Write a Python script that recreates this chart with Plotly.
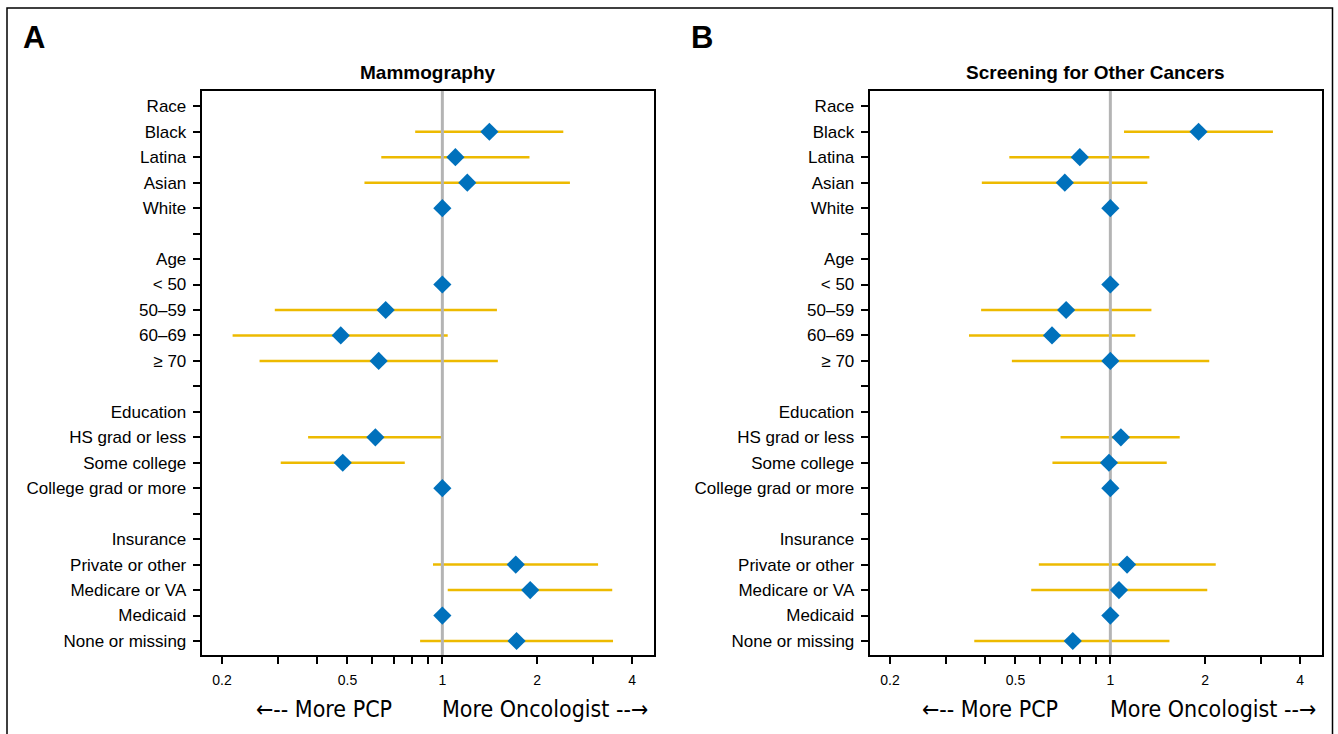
import plotly.graph_objects as go

# ---------------- data ----------------
row_labels = ["Race", "Black", "Latina", "Asian", "White", "",
              "Age", "< 50", "50–59", "60–69", "≥ 70", "",
              "Education", "HS grad or less", "Some college", "College grad or more", "",
              "Insurance", "Private or other", "Medicare or VA", "Medicaid", "None or missing"]

mammo_or = [None, 1.41, 1.10, 1.20, 1.00, None,
            None, 1.00, 0.661, 0.476, 0.628, None,
            None, 0.613, 0.483, 1.00, None,
            None, 1.71, 1.90, 1.00, 1.72]
mammo_lo = [None, 0.82, 0.64, 0.566, None, None,
            None, None, 0.294, 0.216, 0.263, None,
            None, 0.375, 0.307, None, None,
            None, 0.934, 1.04, None, 0.85]
mammo_hi = [None, 2.42, 1.89, 2.54, None, None,
            None, None, 1.49, 1.04, 1.50, None,
            None, 0.99, 0.76, None, None,
            None, 3.12, 3.46, None, 3.48]

screen_or = [None, 1.905, 0.80, 0.717, 1.00, None,
             None, 1.00, 0.724, 0.653, 1.00, None,
             None, 1.08, 0.99, 1.00, None,
             None, 1.13, 1.065, 1.00, 0.76]
screen_lo = [None, 1.105, 0.478, 0.391, None, None,
             None, None, 0.389, 0.356, 0.487, None,
             None, 0.695, 0.655, None, None,
             None, 0.593, 0.561, None, 0.37]
screen_hi = [None, 3.28, 1.33, 1.31, None, None,
             None, None, 1.35, 1.20, 2.06, None,
             None, 1.66, 1.51, None, None,
             None, 2.16, 2.03, None, 1.54]

x_tickvals = [0.2, 0.3, 0.4, 0.5, 0.6, 0.7, 0.8, 0.9, 1, 2, 3, 4]
x_ticktext = ["0.2", "", "", "0.5", "", "", "", "", "1", "2", "", "4"]

panel_titles = ["Mammography", "Screening for Other Cancers"]
panel_letters = ["A", "B"]
left_label = "←-- More PCP"
right_label = "More Oncologist --→"

# ---------------- styling ----------------
W, H = 1338, 734
BLUE = "#0071BC"
YELLOW = "#EDBA00"
GRAY = "#B4B4B4"
FONT = "Liberation Sans, Arial, sans-serif"
NARROW = "Liberation Sans Narrow, DejaVu Sans Condensed, Arial Narrow, sans-serif"

n_rows = len(row_labels)
y_idx = list(range(n_rows))
y_range = [n_rows - 1 + 0.55, -0.60]
x_range = [-0.7636, 0.670]

fig = go.Figure()

panels = [(mammo_or, mammo_lo, mammo_hi, "x", "y"),
          (screen_or, screen_lo, screen_hi, "x2", "y2")]

for est, lo, hi, xa, ya in panels:
    cx, cy = [], []
    for i in y_idx:
        if lo[i] is not None and hi[i] is not None:
            cx += [lo[i], hi[i], None]
            cy += [i, i, None]
    fig.add_trace(go.Scatter(x=cx, y=cy, mode="lines",
                             line=dict(color=YELLOW, width=2.5),
                             xaxis=xa, yaxis=ya, hoverinfo="skip"))
    fig.add_trace(go.Scatter(x=[1, 1], y=y_range, mode="lines",
                             line=dict(color=GRAY, width=3),
                             xaxis=xa, yaxis=ya, hoverinfo="skip"))
    fig.add_trace(go.Scatter(x=est, y=y_idx, mode="markers",
                             marker=dict(symbol="diamond", size=14, color=BLUE,
                                         line=dict(width=0)),
                             xaxis=xa, yaxis=ya))

dom_x = [[201.7 / W, 653.5 / W], [869.7 / W, 1321.5 / W]]
dom_y = [1 - 655 / H, 1 - 91 / H]

xcommon = dict(type="log", range=x_range, tickvals=x_tickvals, ticktext=x_ticktext,
               ticks="outside", ticklen=7, tickwidth=1.5, tickcolor="black",
               showline=True, linewidth=2, linecolor="black", mirror=True,
               showgrid=False, zeroline=False, ticklabelstandoff=4,
               tickfont=dict(family=FONT, size=14, color="black"))
ycommon = dict(range=y_range, tickvals=y_idx, ticktext=row_labels,
               ticks="outside", ticklen=7, tickwidth=1.5, tickcolor="black",
               showline=True, linewidth=2, linecolor="black", mirror=True,
               showgrid=False, zeroline=False, ticklabelstandoff=3,
               tickfont=dict(family=FONT, size=17, color="black"))

fig.update_layout(
    width=W, height=H, margin=dict(l=0, r=0, t=0, b=0),
    paper_bgcolor="white", plot_bgcolor="white", showlegend=False,
    xaxis=dict(domain=dom_x[0], anchor="y", **xcommon),
    yaxis=dict(domain=dom_y, anchor="x", **ycommon),
    xaxis2=dict(domain=dom_x[1], anchor="y2", **xcommon),
    yaxis2=dict(domain=dom_y, anchor="x2", **ycommon),
)

annotations = []
letter_x = [34 / W, 702 / W]
left_cx = [324 / W, 990 / W]
right_cx = [545 / W, 1213 / W]
for k in range(2):
    cxm = (dom_x[k][0] + dom_x[k][1]) / 2
    common = dict(xref="paper", yref="paper", showarrow=False,
                  xanchor="center", yanchor="middle")
    annotations.append(dict(text="<b>%s</b>" % panel_titles[k], x=cxm, y=1 - 72 / H,
                            font=dict(family=FONT, size=19, color="black"), **common))
    annotations.append(dict(text="<b>%s</b>" % panel_letters[k], x=letter_x[k], y=1 - 37 / H,
                            font=dict(family=FONT, size=31, color="black"), **common))
    annotations.append(dict(text=left_label, x=left_cx[k], y=1 - 709 / H,
                            font=dict(family=NARROW, size=23, color="black"), **common))
    annotations.append(dict(text=right_label, x=right_cx[k], y=1 - 709 / H,
                            font=dict(family=NARROW, size=23, color="black"), **common))
fig.update_layout(annotations=annotations)

# outer figure frame
fig.add_shape(type="rect", xref="paper", yref="paper",
              x0=7 / W, x1=1332.5 / W, y0=-0.2, y1=1 - 8 / H,
              line=dict(color="black", width=1.5), fillcolor="rgba(0,0,0,0)")

fig.write_html("out.html",
               config={"displayModeBar": False},
               post_script="document.body.style.margin='0px';"
                           "document.body.style.overflow='hidden';")
